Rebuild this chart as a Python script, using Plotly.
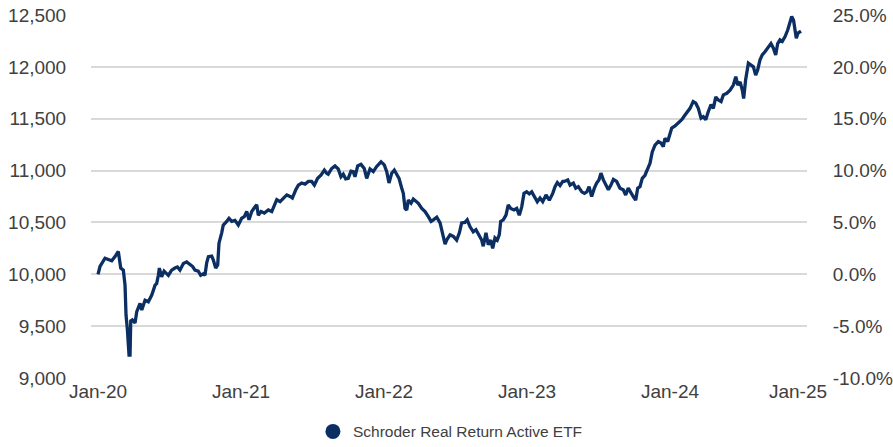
import numpy as np
import pandas as pd
import plotly.graph_objects as go

# Growth of a $10,000 investment, Schroder Real Return Active ETF
# time is in years elapsed since 1 Jan 2020
years = [
    0.000, 0.014, 0.049, 0.072, 0.096, 0.119, 0.142, 0.159, 0.177, 0.189,
    0.196, 0.205, 0.217, 0.224, 0.229, 0.240, 0.259, 0.271, 0.294, 0.306,
    0.329, 0.352, 0.376, 0.399, 0.410, 0.422, 0.429, 0.445, 0.462, 0.492,
    0.515, 0.538, 0.555, 0.573, 0.597, 0.620, 0.643, 0.662, 0.678, 0.701,
    0.718, 0.736, 0.748, 0.760, 0.772, 0.795, 0.806, 0.823, 0.837, 0.846,
    0.865, 0.876, 0.900, 0.916, 0.935, 0.958, 0.981, 1.005, 1.023, 1.040,
    1.056, 1.075, 1.098, 1.110, 1.121, 1.140, 1.163, 1.191, 1.215, 1.238,
    1.250, 1.273, 1.296, 1.320, 1.343, 1.359, 1.383, 1.401, 1.424, 1.448,
    1.471, 1.494, 1.513, 1.536, 1.559, 1.583, 1.599, 1.610, 1.634, 1.657,
    1.680, 1.699, 1.715, 1.732, 1.750, 1.769, 1.785, 1.797, 1.816, 1.839,
    1.862, 1.879, 1.902, 1.925, 1.949, 1.979, 2.002, 2.019, 2.035, 2.054,
    2.072, 2.089, 2.105, 2.124, 2.135, 2.147, 2.159, 2.170, 2.189, 2.205,
    2.222, 2.240, 2.264, 2.287, 2.310, 2.329, 2.345, 2.369, 2.392, 2.404,
    2.415, 2.427, 2.438, 2.462, 2.485, 2.508, 2.527, 2.543, 2.566, 2.582,
    2.601, 2.624, 2.643, 2.666, 2.683, 2.694, 2.713, 2.729, 2.746, 2.760,
    2.776, 2.792, 2.806, 2.816, 2.834, 2.853, 2.869, 2.886, 2.909, 2.928,
    2.946, 2.963, 2.979, 2.998, 3.016, 3.033, 3.049, 3.072, 3.091, 3.110,
    3.133, 3.156, 3.180, 3.196, 3.212, 3.231, 3.250, 3.261, 3.285, 3.301,
    3.324, 3.341, 3.359, 3.383, 3.401, 3.418, 3.434, 3.452, 3.471, 3.487,
    3.503, 3.517, 3.534, 3.550, 3.569, 3.587, 3.604, 3.627, 3.650, 3.673,
    3.690, 3.708, 3.727, 3.743, 3.760, 3.774, 3.790, 3.806, 3.825, 3.844,
    3.860, 3.876, 3.895, 3.918, 3.937, 3.953, 3.965, 3.984, 4.000, 4.012,
    4.035, 4.058, 4.082, 4.105, 4.124, 4.140, 4.162, 4.180, 4.198, 4.217,
    4.233, 4.250, 4.268, 4.287, 4.303, 4.320, 4.338, 4.357, 4.373, 4.397,
    4.420, 4.443, 4.460, 4.474, 4.490, 4.506, 4.515, 4.529, 4.548, 4.566,
    4.583, 4.599, 4.613, 4.629, 4.645, 4.664, 4.687, 4.706, 4.723, 4.739,
    4.753, 4.769, 4.785, 4.804, 4.823, 4.839, 4.851, 4.864, 4.871, 4.883,
    4.895, 4.916,
]

values = [
    10000, 10075, 10155, 10140, 10130, 10170, 10220, 10060, 10040, 9895,
    9605, 9475, 9220, 9220, 9550, 9560, 9530, 9640, 9720, 9655,
    9750, 9735, 9800, 9895, 9910, 9990, 10060, 9975, 10030, 9990,
    10040, 10060, 10070, 10040, 10105, 10120, 10090, 10075, 10040, 10030,
    9990, 10005, 9990, 10110, 10170, 10175, 10140, 10060, 10090, 10300,
    10400, 10475, 10510, 10540, 10510, 10520, 10475, 10540, 10555, 10605,
    10525, 10605, 10650, 10670, 10570, 10605, 10590, 10620, 10605, 10670,
    10720, 10700, 10735, 10765, 10750, 10735, 10815, 10860, 10880, 10870,
    10895, 10895, 10860, 10925, 10955, 11005, 10975, 10965, 11020, 11045,
    11015, 10940, 10965, 10920, 10925, 10995, 10990, 10940, 11045, 11060,
    11020, 10925, 11015, 10990, 11040, 11085, 11055, 10990, 10880, 10975,
    11005, 10960, 10925, 10830, 10780, 10635, 10620, 10715, 10685, 10725,
    10710, 10685, 10635, 10605, 10555, 10510, 10525, 10550, 10495, 10420,
    10350, 10290, 10330, 10380, 10365, 10330, 10400, 10495, 10500, 10525,
    10460, 10410, 10430, 10380, 10330, 10270, 10400, 10285, 10330, 10250,
    10350, 10330, 10380, 10510, 10525, 10570, 10670, 10635, 10620, 10635,
    10570, 10650, 10780, 10795, 10775, 10795, 10750, 10700, 10735, 10700,
    10765, 10715, 10780, 10845, 10885, 10855, 10895, 10895, 10910, 10860,
    10880, 10830, 10845, 10795, 10780, 10795, 10845, 10750, 10830, 10880,
    10910, 10975, 10910, 10860, 10815, 10860, 10915, 10895, 10830, 10815,
    10765, 10830, 10780, 10750, 10715, 10830, 10845, 10925, 10955, 11020,
    11070, 11180, 11245, 11280, 11265, 11230, 11310, 11280, 11360, 11410,
    11430, 11455, 11490, 11535, 11570, 11600, 11665, 11650, 11600, 11505,
    11520, 11490, 11570, 11635, 11600, 11710, 11680, 11665, 11730, 11745,
    11775, 11825, 11905, 11825, 11855, 11775, 11695, 11875, 12035, 12020,
    12000, 11920, 11970, 12065, 12115, 12145, 12195, 12225, 12180, 12115,
    12225, 12260, 12245, 12290, 12355, 12435, 12485, 12450, 12370, 12275,
    12325, 12345,
]

series_name = "Schroder Real Return Active ETF"
initial_investment = 10000

# x-axis labels and where they sit (years since 1 Jan 2020)
tick_years = [0.0, 1.0, 2.0, 3.0, 4.0, 4.895]
tick_labels = ["Jan-20", "Jan-21", "Jan-22", "Jan-23", "Jan-24", "Jan-25"]

# value axis (left) and cumulative return axis (right)
value_ticks = [9000, 9500, 10000, 10500, 11000, 11500, 12000, 12500]
return_ticks = [-0.10, -0.05, 0.0, 0.05, 0.10, 0.15, 0.20, 0.25]
return_labels = [f"{r * 100:.1f}%" for r in return_ticks]

NAVY = "#0b2f63"
TEXT = "#404040"
GRID = "#d9d9d9"
FONT = "Liberation Sans, Arial, sans-serif"

start = pd.Timestamp("2020-01-01")


def to_dates(yrs):
    return start + pd.to_timedelta(np.asarray(yrs, dtype=float) * 365.25, unit="D")


dates = to_dates(years)
returns = np.asarray(values, dtype=float) / initial_investment - 1.0

fig = go.Figure()

fig.add_trace(go.Scatter(
    x=dates, y=values, mode="lines",
    line=dict(color=NAVY, width=3.3),
    name=series_name, showlegend=False,
))

# same series expressed as a return, carried on the right-hand axis
fig.add_trace(go.Scatter(
    x=dates, y=returns, yaxis="y2", mode="lines",
    line=dict(color="rgba(0,0,0,0)", width=0),
    showlegend=False, hoverinfo="skip",
))

# legend entry with a round swatch
fig.add_trace(go.Scatter(
    x=[None], y=[None], mode="markers",
    marker=dict(symbol="circle", size=15, color=NAVY),
    name=series_name, showlegend=True,
))

x_range = to_dates([-0.049, 4.958])

fig.update_layout(
    width=893, height=447,
    margin=dict(l=91, r=86, t=15, b=69),
    paper_bgcolor="white", plot_bgcolor="white",
    font=dict(family=FONT, color=TEXT, size=19),
    xaxis=dict(
        range=list(x_range), automargin=False,
        tickvals=list(to_dates(tick_years)), ticktext=tick_labels,
        showgrid=False, zeroline=False, showline=False,
        ticks="", tickfont=dict(size=19, color=TEXT),
    ),
    yaxis=dict(
        range=[9000, 12500], tickvals=value_ticks, automargin=False,
        tickformat=",d",
        showgrid=True, gridcolor=GRID, gridwidth=1.5,
        zeroline=False, showline=False,
        ticks="outside", ticklen=20, tickcolor="rgba(0,0,0,0)",
        tickfont=dict(size=19, color=TEXT),
    ),
    yaxis2=dict(
        range=[-0.10, 0.25], tickvals=return_ticks, ticktext=return_labels,
        automargin=False,
        overlaying="y", side="right",
        showgrid=False, zeroline=False, showline=False,
        ticks="outside", ticklen=21, tickcolor="rgba(0,0,0,0)",
        tickfont=dict(size=19, color=TEXT),
    ),
    legend=dict(
        orientation="h", x=0.502, xanchor="center",
        yref="container", y=0.034, yanchor="middle",
        font=dict(size=15.5, color=TEXT),
        itemwidth=30,
        bgcolor="rgba(0,0,0,0)",
    ),
    showlegend=True,
)

fig.write_html("out.html")
